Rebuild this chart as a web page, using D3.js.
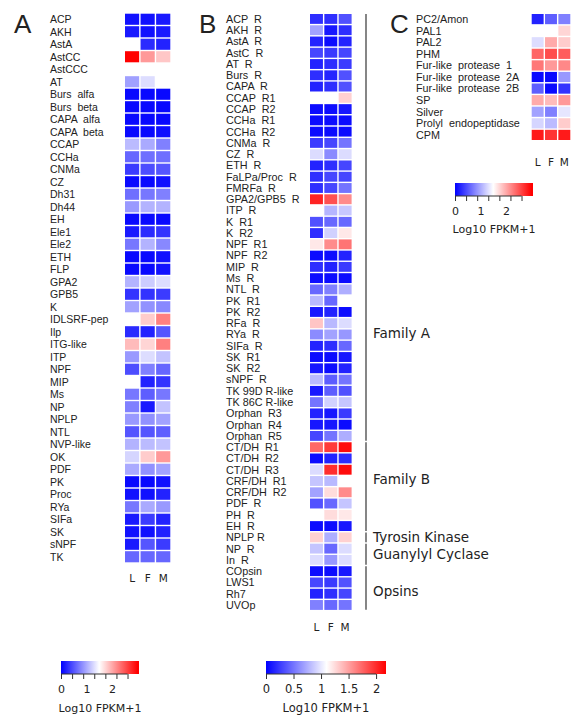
<!DOCTYPE html>
<html><head><meta charset="utf-8">
<script src="https://cdn.jsdelivr.net/npm/d3@7/dist/d3.min.js"></script>
<style>
body{margin:0;background:#fff;}
svg text{font-family:"Liberation Sans",Arial,sans-serif;fill:#222;white-space:pre;}
svg text.dv{font-family:"DejaVu Sans",Verdana,sans-serif;}
</style></head>
<body><svg id="c" width="574" height="716"></svg>
<script>
const columns = ["L","F","M"];

const labelsA = ["ACP","AKH","AstA","AstCC","AstCCC","AT","Burs  alfa","Burs  beta","CAPA  alfa","CAPA  beta","CCAP","CCHa","CNMa","CZ","Dh31","Dh44","EH","Ele1","Ele2","ETH","FLP","GPA2","GPB5","K","IDLSRF-pep","Ilp","ITG-like","ITP","NPF","MIP","Ms","NP","NPLP","NTL","NVP-like","OK","PDF","PK","Proc","RYa","SIFa","SK","sNPF","TK"];
const valuesA = [[0.1,0.1,0.15],[0.15,0.1,0.15],[1.5,0.25,0.2],[3.0,2.1,1.83],[1.5,1.5,1.5],[0.94,1.3,1.5],[0.05,0.05,0.05],[0.05,0.05,0.05],[0.05,0.05,0.05],[0.05,0.05,0.08],[1.1,1.0,0.75],[0.6,0.65,0.65],[0.35,0.45,0.5],[0.05,0.05,0.1],[0.65,0.7,0.75],[0.9,1.05,1.05],[0.05,0.05,0.05],[0.15,0.25,0.3],[0.7,1.05,0.8],[0.05,0.05,0.1],[0.05,0.05,0.1],[1.05,1.2,1.3],[0.3,0.3,0.35],[0.95,0.85,0.8],[1.5,1.8,2.25],[0.25,0.2,0.5],[1.9,1.75,2.25],[0.9,1.3,1.15],[0.45,0.75,0.6],[1.5,0.2,0.3],[0.7,0.55,0.7],[0.75,0.15,1.15],[0.9,0.85,0.95],[0.5,0.5,0.55],[1.05,1.1,1.15],[1.25,1.8,2.1],[1.0,0.85,0.95],[0.05,0.05,0.1],[0.1,0.1,0.2],[0.7,1.0,0.9],[0.15,0.35,0.2],[0.1,0.1,0.2],[0.15,0.5,0.35],[0.6,0.6,0.6]];

const labelsB = ["ACP  R","AKH  R","AstA  R","AstC  R","AT  R","Burs  R","CAPA  R","CCAP  R1","CCAP  R2","CCHa  R1","CCHa  R2","CNMa  R","CZ  R","ETH  R","FaLPa/Proc  R","FMRFa  R","GPA2/GPB5  R","ITP  R","K  R1","K  R2","NPF  R1","NPF  R2","MIP  R","Ms  R","NTL  R","PK  R1","PK  R2","RFa  R","RYa  R","SIFa  R","SK  R1","SK  R2","sNPF  R","TK 99D R-like","TK 86C R-like","Orphan  R3","Orphan  R4","Orphan  R5","CT/DH  R1","CT/DH  R2","CT/DH  R3","CRF/DH  R1","CRF/DH  R2","PDF  R","PH  R","EH  R","NPLP R","NP  R","In  R","COpsin","LWS1","Rh7","UVOp"];
const valuesB = [[0.2,0.2,0.35],[0.7,0.1,0.2],[0.15,0.05,0.15],[0.3,0.25,0.3],[0.15,0.2,0.25],[0.2,0.15,0.35],[0.15,0.2,0.35],[1.1,1.1,1.3],[0.05,0.05,0.1],[0.05,0.05,0.05],[0.05,0.05,0.05],[0.25,0.3,0.5],[0.95,0.6,0.95],[0.15,0.2,0.3],[0.2,0.3,0.3],[0.2,0.3,0.5],[2.05,1.85,1.6],[1.1,0.78,0.86],[0.35,0.45,0.45],[0.2,0.9,1.2],[1.2,1.6,1.7],[0.05,0.05,0.15],[0.2,0.15,0.25],[0.05,0.05,0.05],[0.45,0.55,0.75],[0.8,0.45,1.1],[0.1,0.15,0.05],[1.35,0.8,0.95],[0.6,0.7,0.65],[0.15,0.2,0.45],[0.05,0.05,0.1],[0.1,0.05,0.15],[0.8,0.4,0.5],[0.1,0.4,0.35],[0.5,0.9,0.85],[0.15,0.1,0.25],[0.1,0.1,0.05],[0.3,0.5,0.75],[1.75,1.95,2.15],[0.05,0.15,0.2],[0.95,2.0,2.15],[0.85,0.8,1.1],[0.7,1.25,1.6],[0.35,0.45,0.85],[1.1,1.25,1.2],[0.05,0.05,0.1],[1.3,0.75,1.3],[0.85,0.45,0.95],[0.95,0.65,0.95],[0.05,0.05,0.1],[0.3,0.25,0.35],[0.15,0.2,0.3],[0.55,0.45,0.5]];

const groupsB = [
  {name:"Family A", first:"ACP  R", last:"Orphan  R5"},
  {name:"Family B", first:"CT/DH  R1", last:"EH  R"},
  {name:"Tyrosin Kinase", first:"NPLP R", last:"NPLP R"},
  {name:"Guanylyl Cyclase", first:"NP  R", last:"In  R"},
  {name:"Opsins", first:"COpsin", last:"UVOp"}
];

const labelsC = ["PC2/Amon","PAL1","PAL2","PHM","Fur-like  protease  1","Fur-like  protease  2A","Fur-like  protease  2B","SP","Silver","Prolyl  endopeptidase","CPM"];
const valuesC = [[0.2,0.55,0.75],[1.5,1.5,1.75],[1.3,2.0,1.8],[2.4,2.55,2.45],[2.3,2.1,2.2],[0.05,0.05,0.9],[0.55,0.05,0.3],[2.0,1.9,2.1],[0.95,0.75,1.35],[1.25,1.1,1.8],[2.85,2.7,2.85]];

const colorDomainAC = [0, 1.5, 3];
const colorDomainB = [0, 1.1, 2.2];
const legendTicksAC = [0, 0.435, 0.87, 1.305, 1.74, 2.175, 2.61];
const legendLabelsAC = [0, 1, 2];
const legendTicksB = [0, 0.5, 1, 1.5, 2];
const legendLabelsB = [0, 0.5, 1, 1.5, 2];
const legendTitle = "Log10 FPKM+1";

const svg = d3.select("#c");
const colorRange = ["#0000ff","#ffffff","#ff0000"];

function heatmap(cfg){
  const g = svg.append("g");
  const y = d3.scaleBand().domain(cfg.labels).range(cfg.yRange);
  const x = d3.scaleBand().domain(columns).range(cfg.xRange);
  const color = d3.scaleLinear().domain(cfg.domain).range(colorRange).clamp(true);
  cfg.labels.forEach((lab,i)=>{
    g.selectAll(null).data(cfg.values[i]).enter().append("rect")
      .attr("x",(d,j)=>x(columns[j])+0.7)
      .attr("y",y(lab)+0.7)
      .attr("width",x.bandwidth()-1.4)
      .attr("height",y.bandwidth()-1.4)
      .attr("fill",d=>color(d));
  });
  g.selectAll(".lab").data(cfg.labels).enter().append("text")
    .attr("x",cfg.labelX).attr("y",d=>y(d)+y.bandwidth()/2).attr("dy","0.36em")
    .style("font-size",cfg.fontSize+"px").text(d=>d);
  g.selectAll(".col").data(columns).enter().append("text").attr("class","dv")
    .attr("x",d=>x(d)+x.bandwidth()/2).attr("y",cfg.colY)
    .attr("text-anchor","middle").style("font-size","10.5px").text(d=>d);
  svg.append("text").attr("x",cfg.letter[1]).attr("y",cfg.letter[2])
    .style("font-size","26px").text(cfg.letter[0]);
  return {x,y};
}

heatmap({labels:labelsA, values:valuesA, yRange:[13,563], xRange:[124.3,171], domain:colorDomainAC,
  labelX:50, fontSize:10.5, colY:582, letter:["A",14,33]});
const hb = heatmap({labels:labelsB, values:valuesB, yRange:[13.3,610.6], xRange:[309.3,352.3], domain:colorDomainB,
  labelX:226, fontSize:10.8, colY:631, letter:["B",199,33]});
heatmap({labels:labelsC, values:valuesC, yRange:[13.3,140.7], xRange:[531,571], domain:colorDomainAC,
  labelX:416, fontSize:10.8, colY:166, letter:["C",390,33]});

// group brackets for B
groupsB.forEach(gr=>{
  const y0 = hb.y(gr.first)+0.8, y1 = hb.y(gr.last)+hb.y.bandwidth()-0.8;
  svg.append("line").attr("x1",366).attr("x2",366).attr("y1",y0).attr("y2",y1)
    .attr("stroke","#222").attr("stroke-width",1.1);
});
const groupLabelY = {"Family A":333,"Family B":479,"Tyrosin Kinase":537,"Guanylyl Cyclase":554,"Opsins":591};
groupsB.forEach(gr=>{
  svg.append("text").attr("class","dv").attr("x",373).attr("y",groupLabelY[gr.name]).attr("dy","0.36em")
    .style("font-size","13.5px").text(gr.name);
});

function legend(cfg){
  const g = svg.append("g");
  const id = "grad"+cfg.id;
  const grad = svg.append("defs").append("linearGradient").attr("id",id);
  const dmax = cfg.max;
  cfg.domain.forEach((d,i)=>grad.append("stop").attr("offset",(d/dmax*100)+"%").attr("stop-color",colorRange[i]));
  const x = d3.scaleLinear().domain([0,dmax]).range([cfg.x0,cfg.x1]);
  g.append("rect").attr("x",cfg.x0).attr("y",cfg.y).attr("width",cfg.x1-cfg.x0).attr("height",13).attr("fill","url(#"+id+")");
  const ax = g.append("g").attr("transform","translate(0,"+(cfg.y+13)+")")
    .call(d3.axisBottom(x).tickValues(cfg.ticks).tickSize(5).tickFormat(""));
  ax.select(".domain").attr("stroke","#333").attr("d","M"+cfg.x0+",0H"+x(cfg.ticks[cfg.ticks.length-1]));
  ax.selectAll(".tick line").attr("stroke","#333");
  const al = g.append("g").attr("transform","translate(0,"+(cfg.y+13)+")")
    .call(d3.axisBottom(x).tickValues(cfg.labels).tickSize(0).tickPadding(11).tickFormat(d3.format("")));
  al.select(".domain").remove();
  al.selectAll("text").style("font-size",cfg.fs+"px").style("font-family","DejaVu Sans, Verdana, sans-serif").attr("fill","#222");
  g.append("text").attr("class","dv").attr("x",(cfg.x0+cfg.x1)/2).attr("y",cfg.titleY).attr("text-anchor","middle")
    .style("font-size",cfg.fs+"px").text(legendTitle);
}
legend({id:"A", domain:colorDomainAC, max:3.06, x0:61, x1:139, y:661, ticks:legendTicksAC, labels:legendLabelsAC, titleY:712, fs:11});
legend({id:"B", domain:colorDomainB, max:2.18, x0:266, x1:386, y:661, ticks:legendTicksB, labels:legendLabelsB, titleY:712, fs:11.5});
legend({id:"C", domain:colorDomainAC, max:3.06, x0:455, x1:533, y:183, ticks:legendTicksAC, labels:legendLabelsAC, titleY:233, fs:11});
</script></body></html>
